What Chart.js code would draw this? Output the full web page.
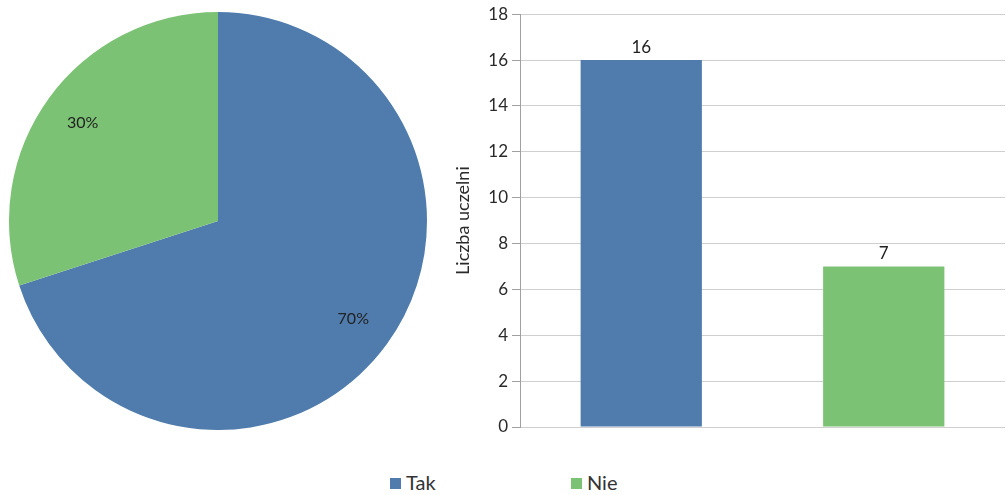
<!DOCTYPE html>
<html lang="pl">
<head>
<meta charset="UTF-8">
<title>Liczba uczelni</title>
<script src="https://cdn.jsdelivr.net/npm/chart.js"></script>
<style>
    body { margin: 0; background: #fff; width: 1008px; height: 495px; position: relative; overflow: hidden; font-family: Lato, "Noto Sans", sans-serif; }
    #pieBox { position: absolute; left: 9px; top: 12px; width: 418px; height: 418px; }
    #barBox { position: absolute; left: 440px; top: 0; width: 568px; height: 445px; }
    .legenda { position: absolute; top: 470px; font-size: 20px; color: #333; }
    .legenda span { display: inline-block; width: 11px; height: 11px; margin-right: 5px; vertical-align: 1px; }
</style>
</head>
<body>
<div id="pieBox"><canvas id="graficoPie"></canvas></div>
<div id="barBox"><canvas id="graficoBar"></canvas></div>
<div class="legenda" style="left:390px"><span style="background:#4f7cac"></span>Tak</div>
<div class="legenda" style="left:571px"><span style="background:#7bc274"></span>Nie</div>

<script>
    const kategorie = ["Tak", "Nie"];
    const procenty = [70, 30];
    const liczbaUczelni = [16, 7];
    const kolory = ["#4f7cac", "#7bc274"];
    const osY = { min: 0, max: 18, krok: 2 };
    const czcionka = "Lato, 'Noto Sans', sans-serif";

    // etykiety procentowe wewnątrz wycinków
    const etykietyPie = {
        id: "etykietyPie",
        afterDatasetsDraw(chart) {
            const ctx = chart.ctx;
            ctx.save();
            ctx.font = "16px " + czcionka;
            ctx.fillStyle = "#222";
            ctx.textAlign = "center";
            ctx.textBaseline = "middle";
            chart.getDatasetMeta(0).data.forEach((arc, i) => {
                const kat = (arc.startAngle + arc.endAngle) / 2;
                const r = arc.outerRadius * 0.8;
                ctx.fillText(procenty[i] + "%", arc.x + Math.cos(kat) * r, arc.y + Math.sin(kat) * r);
            });
            ctx.restore();
        }
    };

    // wartości nad słupkami
    const etykietySlupki = {
        id: "etykietySlupki",
        afterDatasetsDraw(chart) {
            const ctx = chart.ctx;
            ctx.save();
            ctx.font = "17px " + czcionka;
            ctx.fillStyle = "#222";
            ctx.textAlign = "center";
            ctx.textBaseline = "bottom";
            chart.getDatasetMeta(0).data.forEach((bar, i) => {
                ctx.fillText(String(liczbaUczelni[i]), bar.x, bar.y - 4);
            });
            ctx.restore();
        }
    };

    new Chart(document.getElementById("graficoPie"), {
        type: "pie",
        data: {
            labels: kategorie,
            datasets: [{ data: procenty, backgroundColor: kolory, borderWidth: 0 }]
        },
        options: {
            responsive: true,
            maintainAspectRatio: false,
            animation: false,
            plugins: { legend: { display: false }, tooltip: { enabled: false } }
        },
        plugins: [etykietyPie]
    });

    new Chart(document.getElementById("graficoBar"), {
        type: "bar",
        data: {
            labels: kategorie,
            datasets: [{
                data: liczbaUczelni,
                backgroundColor: kolory,
                borderWidth: 0,
                barPercentage: 0.5,
                categoryPercentage: 1
            }]
        },
        options: {
            responsive: true,
            maintainAspectRatio: false,
            animation: false,
            layout: { padding: { top: 13, right: 3, bottom: 18, left: 0 } },
            scales: {
                x: { display: false },
                y: {
                    min: osY.min,
                    max: osY.max,
                    ticks: {
                        stepSize: osY.krok,
                        color: "#2a2a2a",
                        padding: 4,
                        font: { size: 17, family: czcionka }
                    },
                    grid: { color: "#cfcfcf", tickColor: "#a0a0a0", tickLength: 8 },
                    border: { color: "#a0a0a0" },
                    title: {
                        display: true,
                        text: "Liczba uczelni",
                        color: "#2a2a2a",
                        padding: { top: 12, bottom: 0 },
                        font: { size: 18, family: czcionka }
                    },
                    afterFit(scale) { scale.width = 80; }
                }
            },
            plugins: { legend: { display: false }, tooltip: { enabled: false } }
        },
        plugins: [etykietySlupki]
    });
</script>
</body>
</html>
